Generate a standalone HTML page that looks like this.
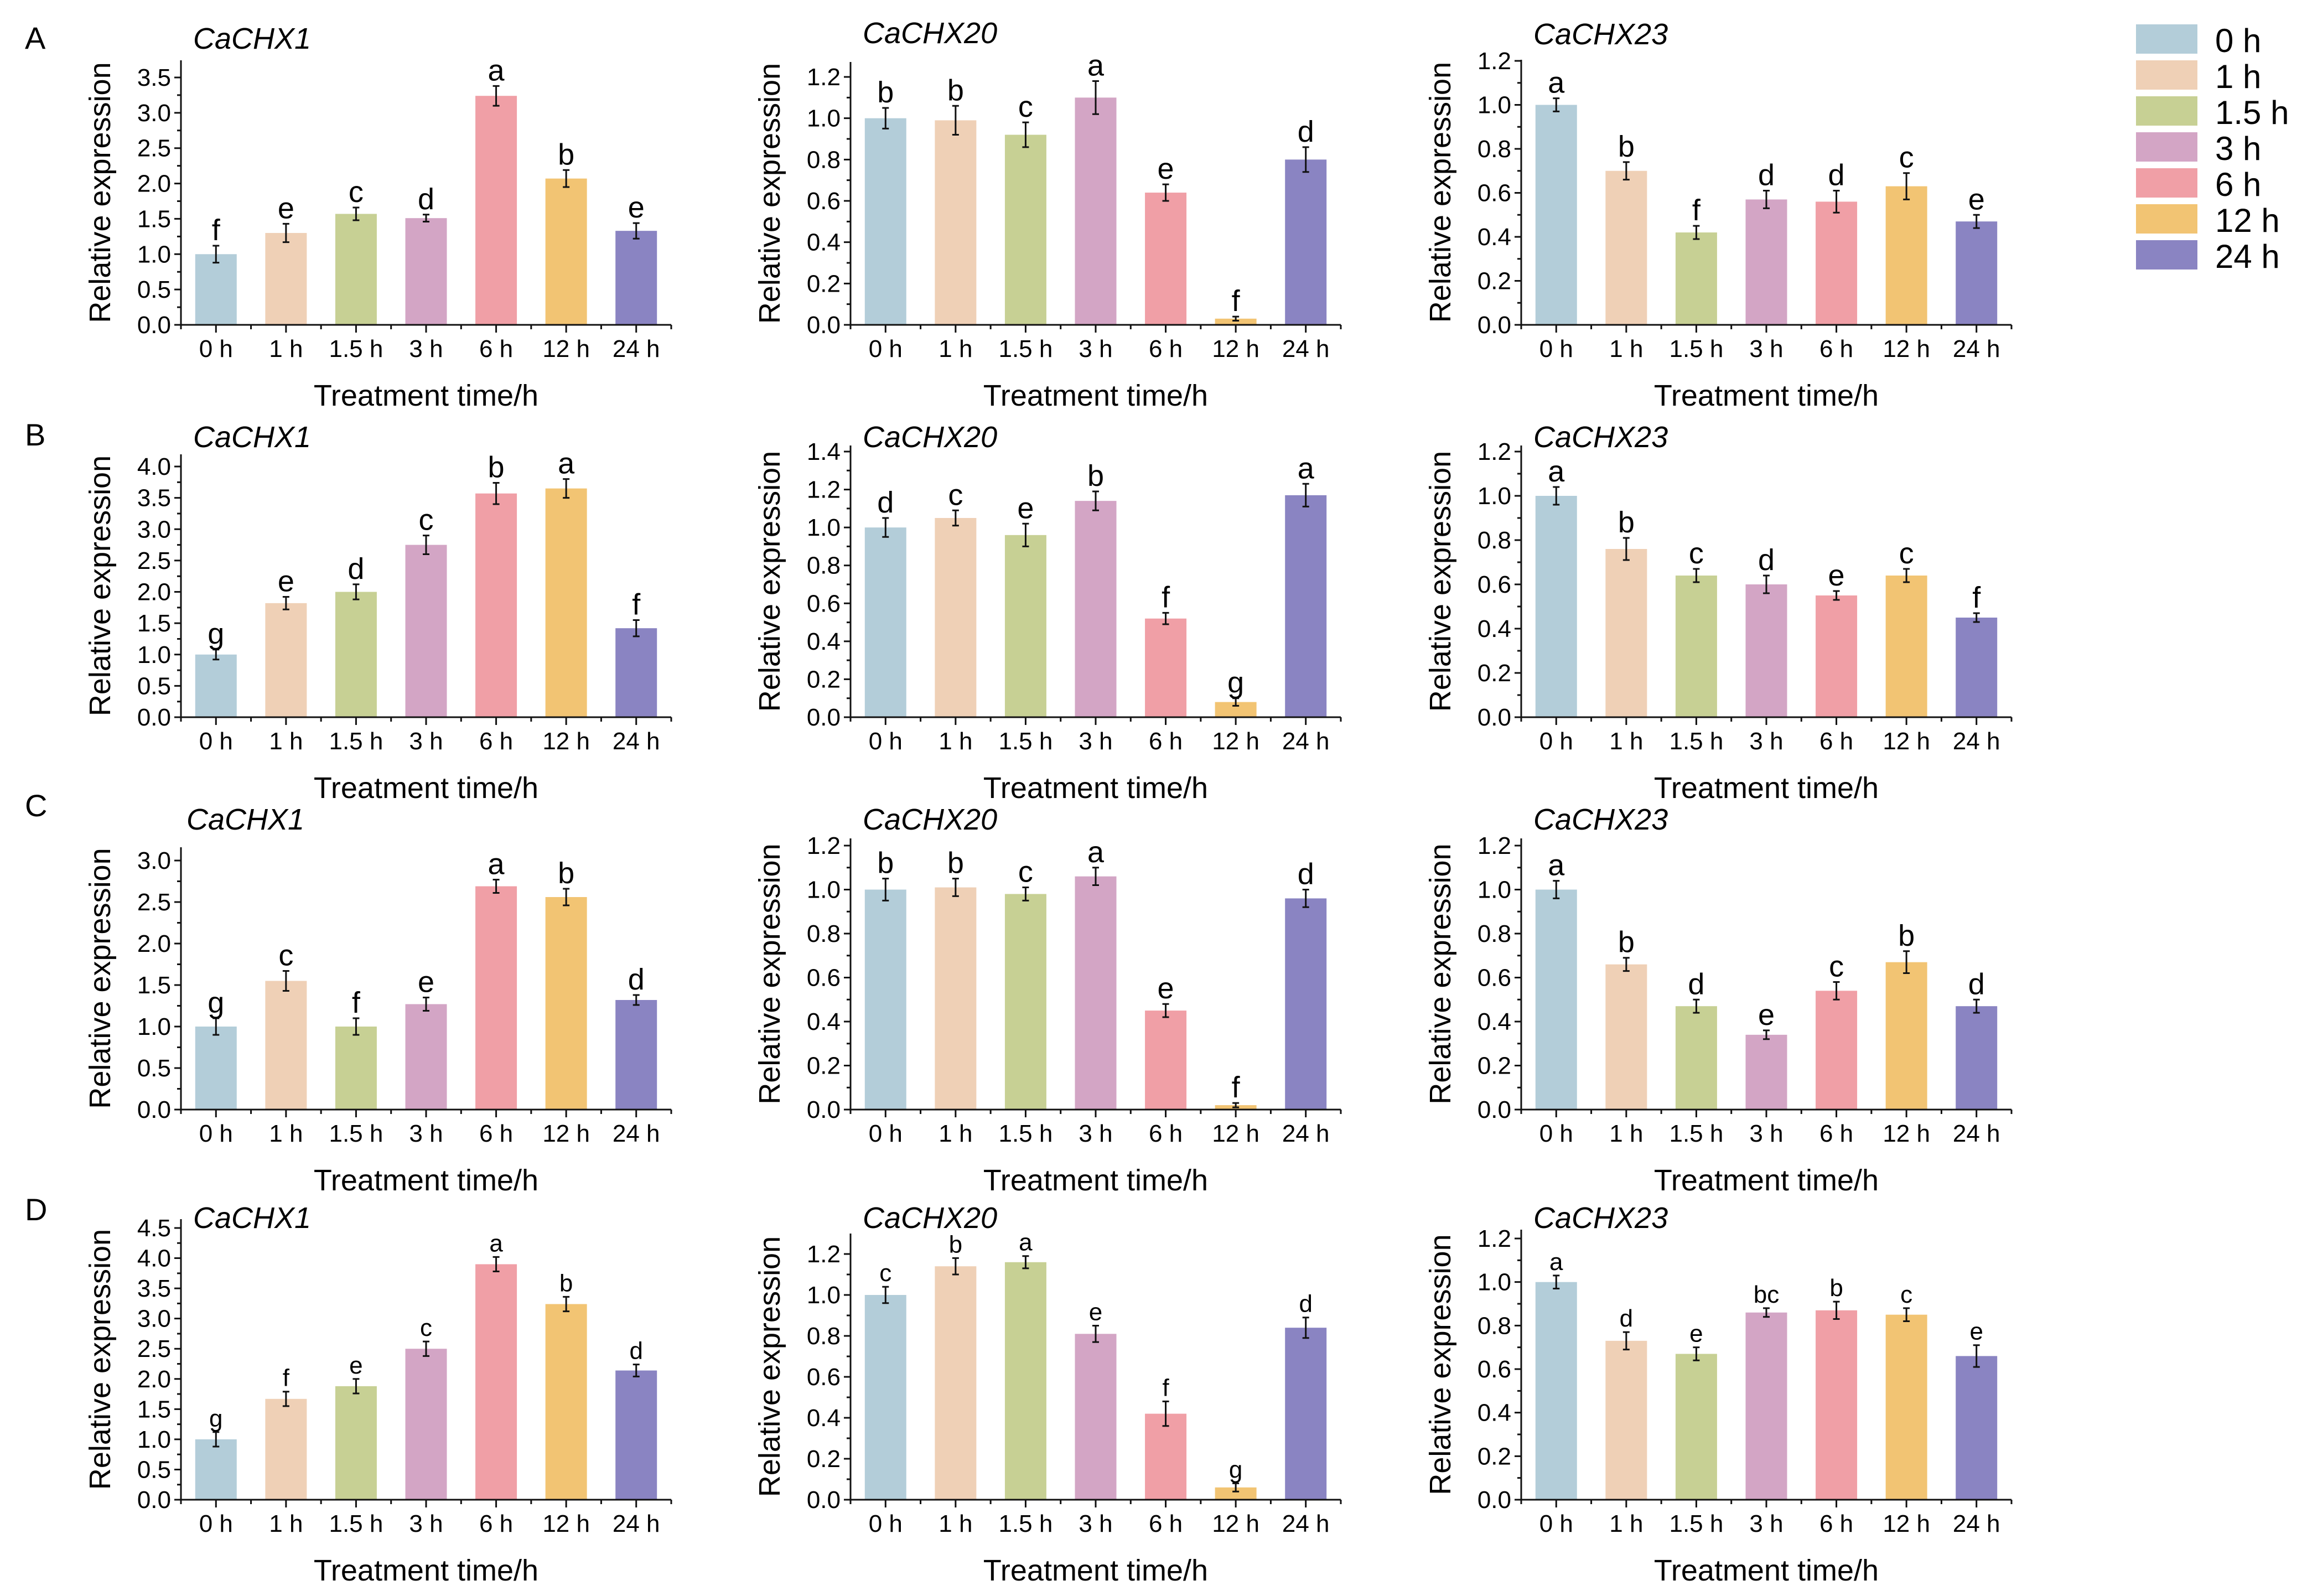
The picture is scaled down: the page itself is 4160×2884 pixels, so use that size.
<!DOCTYPE html>
<html><head><meta charset="utf-8"><style>
html,body{margin:0;padding:0;background:#fff;}
svg{display:block;font-family:"Liberation Sans",Arial,sans-serif;}
</style></head>
<body>
<svg id="fig" width="4160" height="2884" viewBox="0 0 4160 2884" xmlns="http://www.w3.org/2000/svg"></svg>
<script>
const categories = ["0 h","1 h","1.5 h","3 h","6 h","12 h","24 h"];
const colors = ["#b3cdd9","#efd0b6","#c7d094","#d3a5c5","#f09fa6","#f2c473","#8a84c2"];
const genes = ["CaCHX1","CaCHX20","CaCHX23"];
const rowLetters = ["A","B","C","D"];
const vA1 = [1.0,1.3,1.57,1.51,3.24,2.07,1.33];
const eA1 = [0.12,0.13,0.09,0.05,0.14,0.12,0.11];
const lA1 = ["f","e","c","d","a","b","e"];
const vA2 = [1.0,0.99,0.92,1.10,0.64,0.03,0.80];
const eA2 = [0.05,0.07,0.06,0.08,0.04,0.01,0.06];
const lA2 = ["b","b","c","a","e","f","d"];
const vA3 = [1.0,0.70,0.42,0.57,0.56,0.63,0.47];
const eA3 = [0.03,0.04,0.03,0.04,0.05,0.06,0.03];
const lA3 = ["a","b","f","d","d","c","e"];
const vB1 = [1.0,1.82,2.0,2.75,3.57,3.65,1.42];
const eB1 = [0.08,0.1,0.12,0.15,0.17,0.15,0.13];
const lB1 = ["g","e","d","c","b","a","f"];
const vB2 = [1.0,1.05,0.96,1.14,0.52,0.08,1.17];
const eB2 = [0.05,0.04,0.06,0.05,0.03,0.02,0.06];
const lB2 = ["d","c","e","b","f","g","a"];
const vB3 = [1.0,0.76,0.64,0.60,0.55,0.64,0.45];
const eB3 = [0.04,0.05,0.03,0.04,0.02,0.03,0.02];
const lB3 = ["a","b","c","d","e","c","f"];
const vC1 = [1.0,1.55,1.0,1.27,2.69,2.56,1.32];
const eC1 = [0.1,0.12,0.1,0.08,0.08,0.1,0.06];
const lC1 = ["g","c","f","e","a","b","d"];
const vC2 = [1.0,1.01,0.98,1.06,0.45,0.02,0.96];
const eC2 = [0.05,0.04,0.03,0.04,0.03,0.01,0.04];
const lC2 = ["b","b","c","a","e","f","d"];
const vC3 = [1.0,0.66,0.47,0.34,0.54,0.67,0.47];
const eC3 = [0.04,0.03,0.03,0.02,0.04,0.05,0.03];
const lC3 = ["a","b","d","e","c","b","d"];
const vD1 = [1.0,1.67,1.88,2.5,3.9,3.24,2.14];
const eD1 = [0.12,0.12,0.12,0.12,0.12,0.12,0.1];
const lD1 = ["g","f","e","c","a","b","d"];
const vD2 = [1.0,1.14,1.16,0.81,0.42,0.06,0.84];
const eD2 = [0.04,0.04,0.03,0.04,0.06,0.02,0.05];
const lD2 = ["c","b","a","e","f","g","d"];
const vD3 = [1.0,0.73,0.67,0.86,0.87,0.85,0.66];
const eD3 = [0.03,0.04,0.03,0.02,0.04,0.03,0.05];
const lD3 = ["a","d","e","bc","b","c","e"];
const values = [[vA1,vA2,vA3],[vB1,vB2,vB3],[vC1,vC2,vC3],[vD1,vD2,vD3]];
const errors = [[eA1,eA2,eA3],[eB1,eB2,eB3],[eC1,eC2,eC3],[eD1,eD2,eD3]];
const letters = [[lA1,lA2,lA3],[lB1,lB2,lB3],[lC1,lC2,lC3],[lD1,lD2,lD3]];
const tickMax = [[3.5,1.2,1.2],[4.0,1.4,1.2],[3.0,1.2,1.2],[4.5,1.2,1.2]];
const tickStep = [[0.5,0.2,0.2],[0.5,0.2,0.2],[0.5,0.2,0.2],[0.5,0.2,0.2]];

const baseY = [587,1296,2005,2710];
const topTickY = [[140,139,110],[843,816,816],[1555,1528,1528],[2219,2266,2238]];
const axisTopY = [[109,112,108],[821,805,805],[1531,1515,1515],[2203,2229,2222]];
const axisX = [327,1537,2749];
const plotW = 886;
const titleY = [[88,78,80],[808,808,808],[1499,1499,1499],[2219,2219,2219]];
const rowLetterY = [88,805,1475,2205];

const NS="http://www.w3.org/2000/svg";
const svg=document.getElementById('fig');
function mk(tag,attrs,parent){const e=document.createElementNS(NS,tag);for(const k in attrs)e.setAttribute(k,attrs[k]);(parent||svg).appendChild(e);return e;}

for(let r=0;r<4;r++){
  const rl=mk('text',{x:45,y:rowLetterY[r],'font-size':56});
  rl.textContent=rowLetters[r];
  
  
  for(let c=0;c<3;c++){
    const g=mk('g',{});
    
    
    const x0=axisX[c], y0=baseY[r], tm=tickMax[r][c], st=tickStep[r][c];
    const yScale=v=>y0-(y0-topTickY[r][c])*v/tm;
    const step=plotW/7;
    const xc=i=>x0+step*(i+0.5);
    const bw=75;
    const vals=values[r][c], errs=errors[r][c], lets=letters[r][c];
    const fsLet = r===3?44:54;
    for(let i=0;i<7;i++){
      const y=yScale(vals[i]);
      const b=mk('rect',{x:xc(i)-bw/2,y:y,width:bw,height:y0-y,fill:colors[i]},g);
      
      
      const yt=yScale(vals[i]+errs[i]), yb=yScale(vals[i]-errs[i]);
      mk('path',{d:`M${xc(i)},${yt}V${yb}M${xc(i)-6},${yt}H${xc(i)+6}M${xc(i)-6},${yb}H${xc(i)+6}`,stroke:'#111','stroke-width':3,fill:'none'},g);
      const lt=mk('text',{x:xc(i),y:yt-10,'font-size':fsLet,'text-anchor':'middle'},g);
      lt.textContent=lets[i];
      
      
      const tl=mk('text',{x:xc(i),y:y0+58,'font-size':44,'text-anchor':'middle'},g);
      tl.textContent=categories[i];
      
      
    }
    const ax=mk('path',{d:`M${x0},${axisTopY[r][c]}V${y0}H${x0+plotW}`,stroke:'#111','stroke-width':3,fill:'none'},g);
    
    
    let xt='';
    for(let i=0;i<=7;i++){xt+=`M${x0+step*i},${y0}v8`;}
    for(let i=0;i<7;i++){xt+=`M${xc(i)},${y0}v14`;}
    mk('path',{d:xt,stroke:'#111','stroke-width':3},g);
    const nT=Math.round(tm/st);
    let yt='';
    for(let k=0;k<=nT;k++){
      const y=yScale(k*st); yt+=`M${x0},${y}h-12`;
      if(k<nT) yt+=`M${x0},${yScale((k+0.5)*st)}h-7`;
      const t=mk('text',{x:x0-18,y:y+15,'font-size':44,'text-anchor':'end'},g);
      t.textContent=(k*st).toFixed(1);
      
      
    }
    mk('path',{d:yt,stroke:'#111','stroke-width':3},g);
    const yl=mk('text',{x:0,y:0,'font-size':54,'text-anchor':'middle',transform:`translate(${x0-128},${(y0+axisTopY[r][c])/2}) rotate(-90)`},g);
    yl.textContent='Relative expression';
    
    
    const xl=mk('text',{x:x0+plotW/2,y:y0+146,'font-size':54,'text-anchor':'middle'},g);
    xl.textContent='Treatment time/h';
    
    
    const ti=mk('text',{x:x0+(r===2&&c===0?10:22),y:titleY[r][c],'font-size':54,'font-style':'italic'},g);
    ti.textContent=genes[c];
    
    
  }
}
const lg=mk('g',{});


for(let i=0;i<7;i++){
  const y=44+i*65;
  const sw=mk('rect',{x:3860,y:y,width:111,height:53,fill:colors[i]},lg);
  
  
  const t=mk('text',{x:4003,y:y+50,'font-size':60},lg);
  t.textContent=categories[i];
  
  
}
</script>
</body></html>
